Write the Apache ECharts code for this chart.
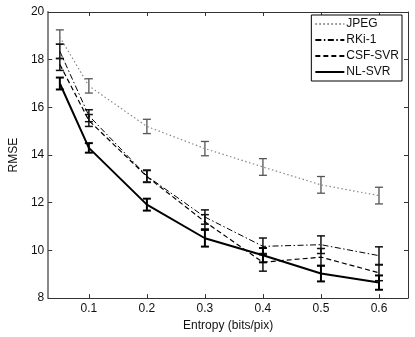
<!DOCTYPE html>
<html lang="en">
<head>
    <meta charset="UTF-8">
    <title>RMSE vs Entropy</title>
    <script src="https://cdn.jsdelivr.net/npm/echarts@6.0.0/dist/echarts.min.js"></script>
</head>
<body style="margin:0">
    <div id="main" style="width: 415px;height:337px;"></div>
    <script type="text/javascript">
        // entropy values (bits/pix)
        var entropy = [0.05, 0.1, 0.2, 0.3, 0.4, 0.5, 0.6];
        var xTicks = [0.1, 0.2, 0.3, 0.4, 0.5, 0.6];

        var jpeg = [18.95, 16.9, 15.2, 14.27, 13.5, 12.75, 12.3];
        var jpegErr = [0.3, 0.3, 0.3, 0.3, 0.35, 0.35, 0.35];
        var rki = [18.35, 15.65, 13.12, 11.4, 10.17, 10.24, 9.78];
        var rkiErr = [0.3, 0.25, 0.25, 0.3, 0.35, 0.37, 0.37];
        var csf = [17.8, 15.45, 13.1, 11.2, 9.5, 9.72, 9.06];
        var csfErr = [0.25, 0.25, 0.25, 0.3, 0.37, 0.36, 0.33];
        var nl = [17.0, 14.3, 11.92, 10.51, 9.8, 9.03, 8.65];
        var nlErr = [0.25, 0.2, 0.25, 0.35, 0.3, 0.33, 0.3];

        var font = 'Liberation Sans';

        function pts(vals) {
            return entropy.map(function (x, i) { return [x, vals[i]]; });
        }
        function bars(vals, errs) {
            return entropy.map(function (x, i) { return [x, vals[i] - errs[i], vals[i] + errs[i]]; });
        }
        function errorSeries(vals, errs, color, width) {
            return {
                type: 'custom',
                silent: true,
                z: 3,
                data: bars(vals, errs),
                renderItem: function (params, api) {
                    var x = api.value(0);
                    var lo = api.coord([x, api.value(1)]);
                    var hi = api.coord([x, api.value(2)]);
                    var w = 4;
                    var st = { stroke: color, lineWidth: width };
                    return {
                        type: 'group',
                        children: [
                            { type: 'line', shape: { x1: lo[0], y1: lo[1], x2: hi[0], y2: hi[1] }, style: st },
                            { type: 'line', shape: { x1: lo[0] - w, y1: lo[1], x2: lo[0] + w, y2: lo[1] }, style: st },
                            { type: 'line', shape: { x1: hi[0] - w, y1: hi[1], x2: hi[0] + w, y2: hi[1] }, style: st }
                        ]
                    };
                }
            };
        }

        var axisLine = { show: true, lineStyle: { color: '#333', width: 1 } };
        var tickInside = { show: true, inside: true, length: 4, lineStyle: { color: '#333' } };

        var myChart = echarts.init(document.getElementById('main'));
        var option = {
            animation: false,
            grid: { left: 35, right: 7, top: 12, bottom: 31 },
            legend: {
                data: ['JPEG', 'RKi-1', 'CSF-SVR', 'NL-SVR'],
                orient: 'vertical',
                right: 13,
                top: 15,
                itemWidth: 29,
                itemHeight: 10,
                itemGap: 4,
                padding: [3, 3, 3, 3],
                borderColor: '#000',
                borderWidth: 1,
                backgroundColor: '#fff',
                itemStyle: { opacity: 0 },
                textStyle: { fontFamily: font, fontSize: 12, color: '#111', padding: [0, 0, 0, -3] }
            },
            xAxis: [{
                type: 'value',
                min: 0.03,
                max: 0.65,
                name: 'Entropy (bits/pix)',
                nameLocation: 'middle',
                nameGap: 21,
                nameTextStyle: { fontFamily: font, fontSize: 12, color: '#111' },
                axisLine: axisLine,
                axisTick: { show: true, inside: true, length: 4, lineStyle: { color: '#333' }, customValues: xTicks },
                axisLabel: {
                    customValues: xTicks,
                    fontFamily: font, fontSize: 12, color: '#111', margin: 5,
                    formatter: function (v) { return v.toFixed(1); }
                },
                splitLine: { show: false }
            }, {
                type: 'value',
                position: 'top',
                min: 0.03,
                max: 0.65,
                axisLine: axisLine,
                axisTick: { show: true, inside: true, length: 4, lineStyle: { color: '#333' }, customValues: xTicks },
                axisLabel: { show: false },
                splitLine: { show: false }
            }],
            yAxis: [{
                type: 'value',
                min: 8,
                max: 20,
                interval: 2,
                name: 'RMSE',
                nameLocation: 'middle',
                nameGap: 23,
                nameTextStyle: { fontFamily: font, fontSize: 12, color: '#111' },
                axisLine: { show: true, lineStyle: { color: '#888', width: 2 } },
                axisTick: tickInside,
                axisLabel: { fontFamily: font, fontSize: 12, color: '#111', margin: 4 },
                splitLine: { show: false }
            }, {
                type: 'value',
                position: 'right',
                min: 8,
                max: 20,
                interval: 2,
                axisLine: axisLine,
                axisTick: tickInside,
                axisLabel: { show: false },
                splitLine: { show: false }
            }],
            series: [
                {
                    name: 'JPEG', type: 'line', data: pts(jpeg), symbol: 'none',
                    lineStyle: { color: '#888', width: 1.2, type: [1.5, 2.5] },
                    itemStyle: { color: '#888' }
                },
                {
                    name: 'RKi-1', type: 'line', data: pts(rki), symbol: 'none',
                    lineStyle: { color: '#000', width: 1, type: [6, 2.5, 1.5, 2.5] },
                    itemStyle: { color: '#000' }
                },
                {
                    name: 'CSF-SVR', type: 'line', data: pts(csf), symbol: 'none',
                    lineStyle: { color: '#000', width: 1.2, type: [5, 3] },
                    itemStyle: { color: '#000' }
                },
                {
                    name: 'NL-SVR', type: 'line', data: pts(nl), symbol: 'none',
                    lineStyle: { color: '#000', width: 2 },
                    itemStyle: { color: '#000' }
                },
                errorSeries(jpeg, jpegErr, '#555', 1.3),
                errorSeries(rki, rkiErr, '#111', 1.5),
                errorSeries(csf, csfErr, '#111', 1.5),
                errorSeries(nl, nlErr, '#000', 2)
            ]
        };
        myChart.setOption(option);
    </script>
</body>
</html>
